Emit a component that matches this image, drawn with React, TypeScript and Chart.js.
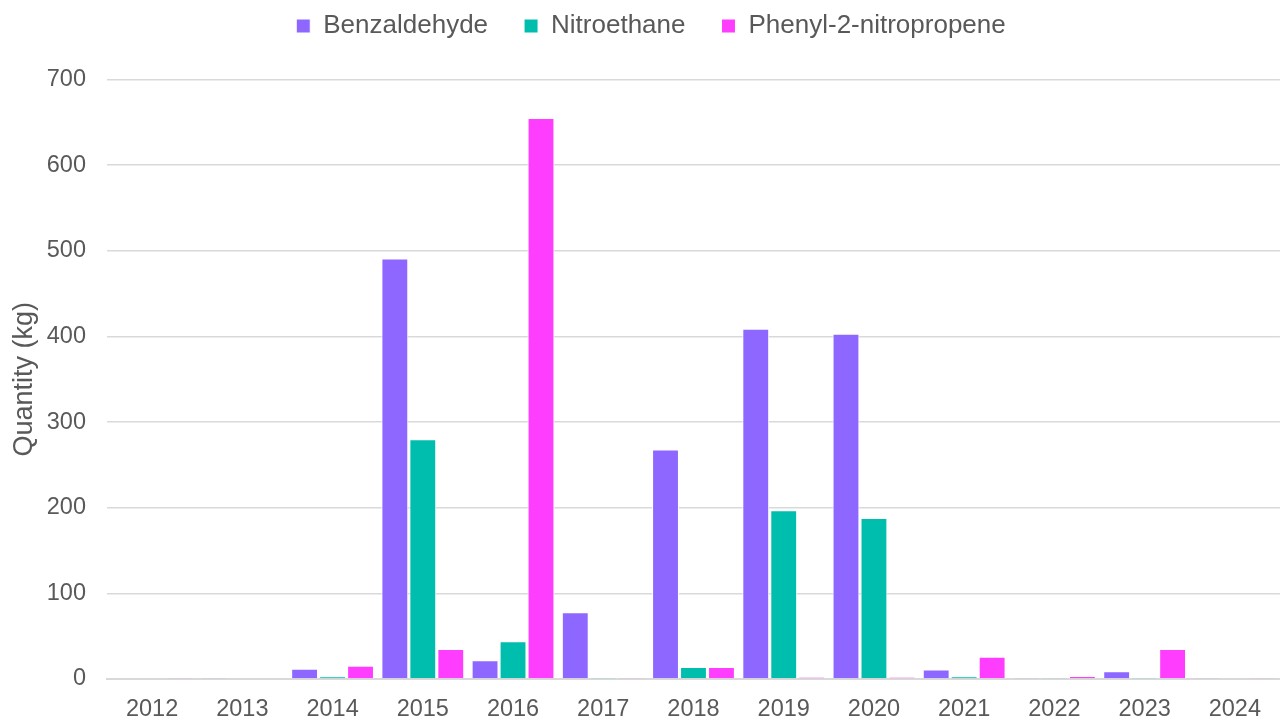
import React, { useEffect, useRef } from "react";
import { Chart, registerables } from "chart.js";

Chart.register(...registerables);

const years = ["2012", "2013", "2014", "2015", "2016", "2017", "2018", "2019", "2020", "2021", "2022", "2023", "2024"];
const benzaldehyde = [0, 0.5, 12, 491, 22, 78, 268, 409, 403, 11, 0.5, 9, 0.5];
const nitroethane = [0, 0, 3, 280, 44, 0.3, 14, 197, 188, 3, 0.5, 0.3, 0];
const phenyl2nitropropene = [0.5, 0, 15.5, 35, 655, 0.5, 14, 2.3, 2.3, 26, 3.5, 35, 0.5];
const yTicks = [0, 100, 200, 300, 400, 500, 600, 700];

const FONT = "'Liberation Sans', Arial, sans-serif";
const TEXT = "#595959";

const legendExtra = {
  id: "legendExtra",
  afterInit(chart: any) {
    const lg = chart.legend;
    if (!lg) return;
    const origFit = lg.fit.bind(lg);
    lg.fit = function () {
      origFit();
      this.height += 30.5;
    };
    const origDraw = lg.draw.bind(lg);
    lg.draw = function () {
      const ctx = this.ctx;
      ctx.save();
      ctx.translate(11, 0);
      origDraw();
      ctx.restore();
    };
  },
};

export default function App() {
  const ref = useRef<HTMLCanvasElement | null>(null);
  useEffect(() => {
    if (!ref.current) return;
    const mk = (label: string, data: number[], color: string) => ({
      label,
      data,
      backgroundColor: color,
      borderColor: "#ffffff",
      borderWidth: 1,
      barPercentage: 0.96,
      categoryPercentage: 0.93,
    });
    const chart = new Chart(ref.current, {
      type: "bar",
      data: {
        labels: years,
        datasets: [
          mk("Benzaldehyde", benzaldehyde, "#8D67FF"),
          mk("Nitroethane", nitroethane, "#00BEAD"),
          mk("Phenyl-2-nitropropene", phenyl2nitropropene, "#FF3DFF"),
        ],
      },
      plugins: [legendExtra],
      options: {
        animation: false,
        responsive: false,
        maintainAspectRatio: false,
        layout: { padding: { top: -23, left: 0, right: 0, bottom: 0 } },
        plugins: {
          legend: {
            position: "top",
            labels: {
              font: { family: FONT, size: 26 },
              color: TEXT,
              boxWidth: 14,
              boxHeight: 14,
              padding: 36,
            },
          },
          tooltip: { enabled: false },
        },
        scales: {
          x: {
            grid: { display: false, drawTicks: false },
            border: { display: true, color: "#d9d9d9", width: 2 },
            ticks: { font: { family: FONT, size: 23.5, lineHeight: 1 }, color: TEXT, padding: 19 },
            afterFit: (axis: any) => {
              axis.height = 39;
            },
          },
          y: {
            min: 0,
            max: 700,
            afterBuildTicks: (axis: any) => {
              axis.ticks = yTicks.map((v) => ({ value: v }));
            },
            afterFit: (axis: any) => {
              axis.width = 107;
            },
            grid: { color: "#d9d9d9", lineWidth: 1.5, drawTicks: false },
            border: { display: false },
            ticks: { font: { family: FONT, size: 23.5 }, color: TEXT, padding: 21 },
            title: {
              display: true,
              text: "Quantity (kg)",
              font: { family: FONT, size: 27 },
              color: TEXT,
              padding: { top: 8, bottom: 6 },
            },
          },
        },
      },
    });
    return () => chart.destroy();
  }, []);
  return (
    <div style={{ position: "fixed", left: 0, top: 0, width: 1280, height: 718, background: "#fff" }}>
      <canvas ref={ref} width={1280} height={718} style={{ width: 1280, height: 718 }} />
    </div>
  );
}
